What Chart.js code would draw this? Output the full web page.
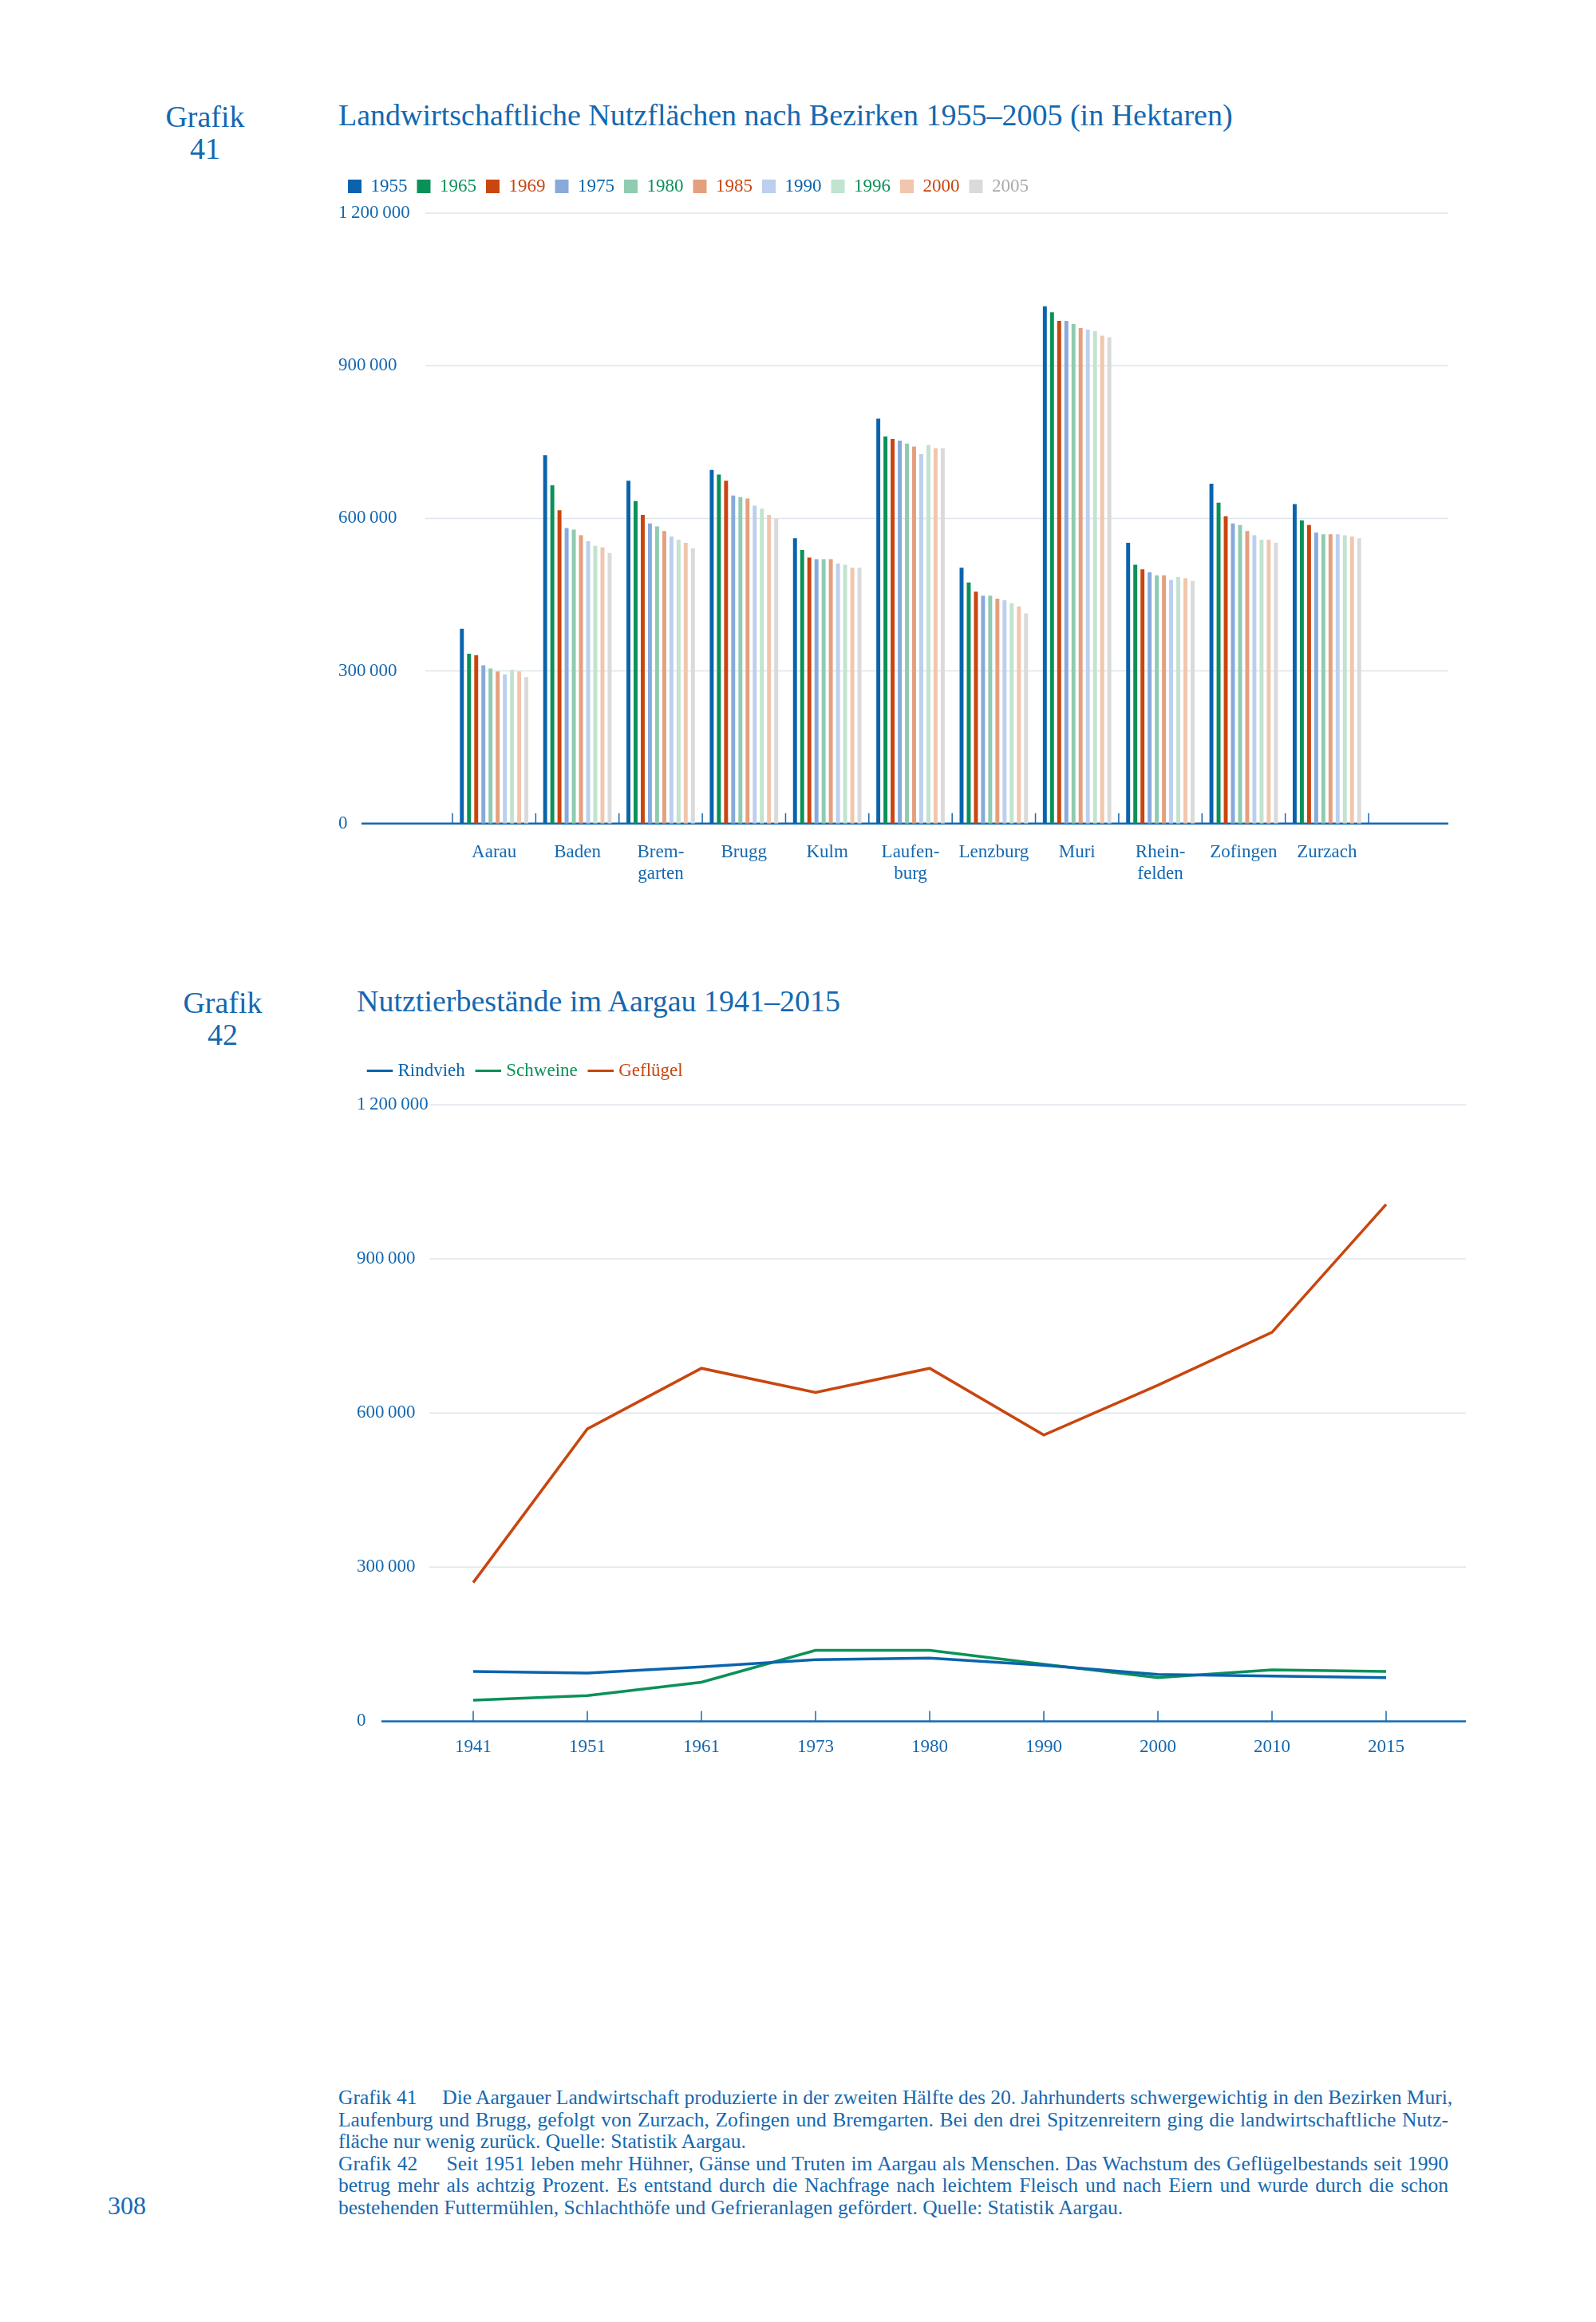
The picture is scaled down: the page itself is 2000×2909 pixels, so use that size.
<!DOCTYPE html>
<html>
<head>
<meta charset="utf-8">
<script src="https://cdn.jsdelivr.net/npm/chart.js@4"></script>
<style>
  body { margin: 0; width: 2000px; height: 2909px; background: #fff; position: relative;
         font-family: "Liberation Serif", "DejaVu Serif", serif; color: #1468b0; }
  .abs { position: absolute; }
  .grafik { font-size: 38px; line-height: 40px; text-align: center; width: 140px; }
  .title { font-size: 38px; }
  .cap { left: 424px; top: 2614px; width: 1391px; font-size: 25.5px; line-height: 27.5px; }
  .cap div { text-align: justify; text-align-last: justify; white-space: nowrap; }
  .cap div.last { text-align-last: left; }
</style>
</head>
<body>
<div class="abs grafik" style="left:187px; top:126px;">Grafik<br>41</div>
<div class="abs title" style="left:424px; top:122px;">Landwirtschaftliche Nutzflächen nach Bezirken 1955–2005 (in Hektaren)</div>
<div class="abs" style="left:0; top:210px; width:2000px; height:930px;"><canvas id="bars"></canvas></div>

<div class="abs grafik" style="left:209px; top:1236px;">Grafik<br>42</div>
<div class="abs title" style="left:447px; top:1232px;">Nutztierbestände im Aargau 1941–2015</div>
<div class="abs" style="left:0; top:1312px; width:2000px; height:902px;"><canvas id="lines"></canvas></div>

<div class="abs cap">
  <div>Grafik 41&nbsp;&nbsp;&nbsp;&nbsp; Die Aargauer Landwirtschaft produzierte in der zweiten Hälfte des 20. Jahrhunderts schwergewichtig in den Bezirken Muri,</div>
  <div>Laufenburg und Brugg, gefolgt von Zurzach, Zofingen und Bremgarten. Bei den drei Spitzenreitern ging die landwirtschaftliche Nutz-</div>
  <div class="last">fläche nur wenig zurück. Quelle: Statistik Aargau.</div>
  <div>Grafik 42&nbsp;&nbsp;&nbsp;&nbsp; Seit 1951 leben mehr Hühner, Gänse und Truten im Aargau als Menschen. Das Wachstum des Geflügelbestands seit 1990</div>
  <div>betrug mehr als achtzig Prozent. Es entstand durch die Nachfrage nach leichtem Fleisch und nach Eiern und wurde durch die schon</div>
  <div class="last">bestehenden Futtermühlen, Schlachthöfe und Gefrieranlagen gefördert. Quelle: Statistik Aargau.</div>
</div>
<div class="abs" style="left:135px; top:2745px; font-size:32px;">308</div>

<script>
// Grafik 41 data
const districts = [['Aarau'], ['Baden'], ['Brem-', 'garten'], ['Brugg'], ['Kulm'], ['Laufen-', 'burg'],
  ['Lenzburg'], ['Muri'], ['Rhein-', 'felden'], ['Zofingen'], ['Zurzach']];
const years = ['1955', '1965', '1969', '1975', '1980', '1985', '1990', '1996', '2000', '2005'];
const barColors = ['#0a64ad', '#0b9158', '#c9460f', '#88aadb', '#8fcbb0', '#e4a07e', '#bccfee', '#c1e3cf', '#f0c6ad', '#dadada'];
const legendTextColors = ['#0a64ad', '#0b9158', '#c9460f', '#0a64ad', '#0b9158', '#c9460f', '#0a64ad', '#0b9158', '#c9460f', '#aaaaaa'];
// values per district, one per year
const area = [
  [383000, 334000, 331000, 311000, 305000, 299000, 293000, 302000, 299000, 288000],
  [724000, 665000, 616000, 581000, 578000, 567000, 555000, 546000, 543000, 532000],
  [674000, 634000, 607000, 590000, 584000, 575000, 564000, 558000, 552000, 541000],
  [695000, 686000, 674000, 645000, 642000, 639000, 625000, 619000, 607000, 599000],
  [561000, 538000, 523000, 520000, 520000, 520000, 511000, 509000, 503000, 503000],
  [796000, 761000, 756000, 753000, 747000, 741000, 726000, 744000, 738000, 738000],
  [503000, 474000, 456000, 448000, 448000, 442000, 439000, 433000, 427000, 413000],
  [1017000, 1005000, 988000, 988000, 982000, 974000, 971000, 968000, 959000, 956000],
  [552000, 509000, 500000, 494000, 488000, 488000, 479000, 485000, 482000, 477000],
  [668000, 631000, 604000, 590000, 587000, 575000, 567000, 558000, 558000, 552000],
  [628000, 596000, 587000, 572000, 569000, 569000, 569000, 567000, 564000, 561000]
];

// Grafik 42 data
const tierYears = ['1941', '1951', '1961', '1973', '1980', '1990', '2000', '2010', '2015'];
const rindvieh = [97000, 94000, 106000, 120000, 123000, 109000, 91000, 88000, 85000];
const schweine = [41000, 50000, 76000, 138000, 138000, 111000, 85000, 100000, 97000];
const gefluegel = [270000, 569000, 687000, 640000, 687000, 557000, 654000, 757000, 1006000];
const yTicks = [0, 300000, 600000, 900000, 1200000];

const blue = '#1468b0';
const font = { family: '"Liberation Serif", serif', size: 23 };

function fmt(v) {
  return String(v).replace(/\B(?=(\d{3})+(?!\d))/g, '\u2009');
}

// draws gridlines / baseline wider than the chart area, plus small tick marks
const frame = {
  id: 'frame',
  beforeInit(chart, args, o) {
    const fit = chart.legend.fit;
    chart.legend.fit = function () {
      fit.call(this);
      this.height += o.legendGap;
    };
  },
  beforeDatasetsDraw(chart, args, o) {
    const ctx = chart.ctx, y = chart.scales.y, x = chart.scales.x;
    ctx.save();
    yTicks.forEach(v => {
      const py = y.getPixelForValue(v);
      ctx.beginPath();
      if (v === 0) {
        ctx.strokeStyle = blue; ctx.lineWidth = 2.5;
        ctx.moveTo(o.axisLeft, py);
      } else {
        ctx.strokeStyle = '#dfe5ec'; ctx.lineWidth = 1.5;
        ctx.moveTo(o.gridLeft, py);
      }
      ctx.lineTo(o.right, py);
      ctx.stroke();
    });
    const base = y.getPixelForValue(0);
    const n = chart.data.labels.length;
    ctx.strokeStyle = blue; ctx.lineWidth = 1.5;
    for (let i = 0; i < n + (o.between ? 1 : 0); i++) {
      let px;
      if (o.between) {
        const step = (x.getPixelForValue(1) - x.getPixelForValue(0));
        px = x.getPixelForValue(0) - step / 2 + i * step;
      } else {
        px = x.getPixelForValue(i);
      }
      ctx.beginPath();
      ctx.moveTo(px, base);
      ctx.lineTo(px, base - 13);
      ctx.stroke();
    }
    ctx.restore();
  }
};

function yScale(width) {
  return {
    min: 0, max: 1200000,
    afterBuildTicks(s) { s.ticks = yTicks.map(v => ({ value: v })); },
    afterFit(s) { s.width = width; },
    grid: { display: false },
    border: { display: false },
    ticks: { color: blue, font: font, crossAlign: 'far', padding: 0, callback: v => fmt(v) }
  };
}

new Chart(document.getElementById('bars'), {
  type: 'bar',
  data: {
    labels: districts,
    datasets: years.map((yr, j) => ({
      label: yr,
      data: area.map(row => row[j]),
      backgroundColor: barColors[j],
      barPercentage: 0.55,
      categoryPercentage: 0.86
    }))
  },
  options: {
    responsive: true, maintainAspectRatio: false, animation: false,
    layout: { padding: { left: 424, right: 285, top: 0, bottom: 17 } },
    plugins: {
      tooltip: { enabled: false },
      frame: { axisLeft: 453, gridLeft: 533, right: 1815, between: true, legendGap: 12 },
      legend: {
        position: 'top', align: 'start',
        labels: {
          boxWidth: 17, boxHeight: 17, padding: 12, font: font,
          generateLabels(chart) {
            return chart.data.datasets.map((d, i) => ({
              text: d.label, fillStyle: barColors[i], strokeStyle: barColors[i],
              lineWidth: 0, fontColor: legendTextColors[i], datasetIndex: i
            }));
          }
        }
      }
    },
    scales: {
      x: {
        grid: { display: false }, border: { display: false },
        ticks: { color: blue, font: font, padding: 14, maxRotation: 0, autoSkip: false }
      },
      y: yScale(143)
    }
  },
  plugins: [frame]
});

const lineColors = ['#0a64ad', '#0b9158', '#c9460f'];
new Chart(document.getElementById('lines'), {
  type: 'line',
  data: {
    labels: tierYears,
    datasets: [
      { label: 'Rindvieh', data: rindvieh, borderColor: lineColors[0] },
      { label: 'Schweine', data: schweine, borderColor: lineColors[1] },
      { label: 'Geflügel', data: gefluegel, borderColor: lineColors[2] }
    ].map(d => Object.assign(d, { borderWidth: 3.5, pointRadius: 0, tension: 0, fill: false }))
  },
  options: {
    responsive: true, maintainAspectRatio: false, animation: false,
    layout: { padding: { left: 447, right: 263, top: 0, bottom: 0 } },
    plugins: {
      tooltip: { enabled: false },
      frame: { axisLeft: 478, gridLeft: 538, right: 1837, between: false, legendGap: 21 },
      legend: {
        position: 'top', align: 'start',
        labels: {
          boxWidth: 22, padding: 18, font: font, usePointStyle: true,
          generateLabels(chart) {
            return chart.data.datasets.map((d, i) => ({
              text: d.label, strokeStyle: lineColors[i], fillStyle: lineColors[i],
              lineWidth: 3, pointStyle: 'line', fontColor: lineColors[i], datasetIndex: i
            }));
          }
        }
      }
    },
    scales: {
      x: {
        offset: false,
        grid: { display: false }, border: { display: false },
        ticks: { color: blue, font: font, padding: 11, maxRotation: 0, autoSkip: false }
      },
      y: yScale(146)
    }
  },
  plugins: [frame]
});
</script>
</body>
</html>
